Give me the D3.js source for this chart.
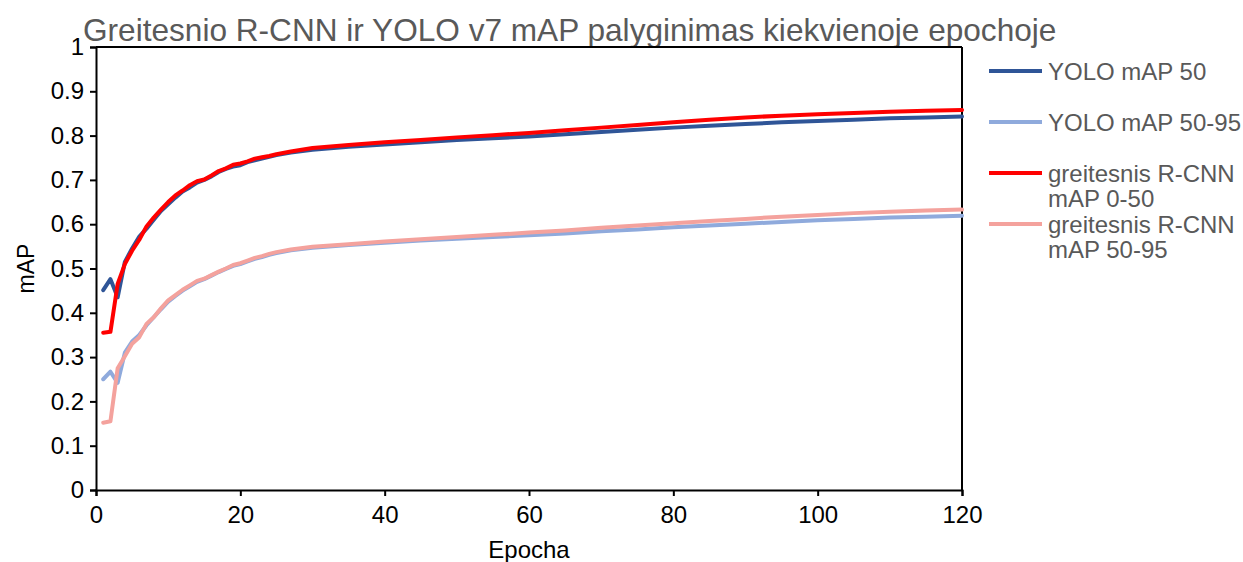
<!DOCTYPE html>
<html>
<head>
<meta charset="utf-8">
<script src="https://cdn.jsdelivr.net/npm/d3@7"></script>
<style>
  html, body { margin: 0; padding: 0; background: #ffffff; }
  svg { display: block; font-family: Arial, "Liberation Sans", sans-serif; }
</style>
</head>
<body>
<svg id="chart" width="1243" height="562"></svg>
<script>
// Epochs at which the mAP values are recorded
const epochs = [1, 2, 3, 4, 5, 6, 7, 8, 9, 10, 11, 12, 13, 14, 15, 16, 17, 18, 19, 20,
  21, 22, 23, 24, 25, 27, 30, 35, 40, 45, 50, 55, 60, 65, 70, 75, 80, 85, 90, 95,
  100, 105, 110, 115, 120];

const yoloMap50 = [0.451, 0.476, 0.435, 0.515, 0.545, 0.572, 0.590, 0.610, 0.630, 0.645,
  0.660, 0.674, 0.683, 0.694, 0.700, 0.708, 0.718, 0.725, 0.730, 0.733,
  0.740, 0.744, 0.748, 0.752, 0.756, 0.762, 0.768, 0.775, 0.780, 0.785,
  0.790, 0.794, 0.798, 0.803, 0.808, 0.813, 0.818, 0.822, 0.826, 0.830,
  0.833, 0.836, 0.839, 0.841, 0.843];

const yoloMap5095 = [0.250, 0.267, 0.242, 0.310, 0.335, 0.350, 0.372, 0.390, 0.408, 0.425,
  0.438, 0.450, 0.460, 0.470, 0.476, 0.484, 0.492, 0.499, 0.506, 0.510,
  0.516, 0.522, 0.526, 0.531, 0.535, 0.541, 0.547, 0.553, 0.558, 0.563,
  0.567, 0.571, 0.575, 0.579, 0.584, 0.588, 0.593, 0.597, 0.601, 0.605,
  0.609, 0.612, 0.615, 0.617, 0.619];

const rcnnMap050 = [0.355, 0.357, 0.465, 0.510, 0.540, 0.565, 0.595, 0.615, 0.633, 0.650,
  0.665, 0.676, 0.688, 0.697, 0.701, 0.710, 0.720, 0.726, 0.734, 0.737,
  0.742, 0.748, 0.751, 0.754, 0.758, 0.764, 0.772, 0.779, 0.785, 0.790,
  0.796, 0.801, 0.806, 0.812, 0.818, 0.824, 0.830, 0.836, 0.841, 0.845,
  0.848, 0.851, 0.854, 0.856, 0.858];

const rcnnMap5095 = [0.152, 0.155, 0.275, 0.302, 0.330, 0.345, 0.375, 0.390, 0.410, 0.428,
  0.440, 0.452, 0.462, 0.472, 0.477, 0.485, 0.493, 0.500, 0.508, 0.512,
  0.518, 0.524, 0.528, 0.533, 0.537, 0.543, 0.549, 0.555, 0.561, 0.566,
  0.571, 0.576, 0.581, 0.586, 0.592, 0.597, 0.602, 0.607, 0.612, 0.617,
  0.621, 0.625, 0.628, 0.631, 0.633];

const seriesNames = ["YOLO mAP 50", "YOLO mAP 50-95", "greitesnis R-CNN mAP 0-50", "greitesnis R-CNN mAP 50-95"];
const seriesColors = ["#2f5597", "#8faadc", "#ff0000", "#f4a29d"];
const legendLines = [["YOLO mAP 50"], ["YOLO mAP 50-95"], ["greitesnis R-CNN", "mAP 0-50"], ["greitesnis R-CNN", "mAP 50-95"]];

const xTicks = [0, 20, 40, 60, 80, 100, 120];
const yTicks = [0, 0.1, 0.2, 0.3, 0.4, 0.5, 0.6, 0.7, 0.8, 0.9, 1];

const titleText = "Greitesnio R-CNN ir YOLO v7 mAP palyginimas kiekvienoje epochoje";
const xTitle = "Epocha";
const yTitle = "mAP";

const seriesValues = [yoloMap50, yoloMap5095, rcnnMap050, rcnnMap5095];

const svg = d3.select("#chart");
const plot = { left: 96, right: 962, top: 47, bottom: 490 };

const x = d3.scaleLinear().domain([0, 120]).range([plot.left, plot.right]);
const y = d3.scaleLinear().domain([0, 1]).range([plot.bottom, plot.top]);

// Title
svg.append("text")
  .attr("x", 83).attr("y", 41)
  .attr("font-size", 31.6)
  .attr("fill", "#595959")
  .text(titleText);

// Frame: top and right edges
svg.append("line")
  .attr("x1", plot.left).attr("x2", plot.right)
  .attr("y1", plot.top).attr("y2", plot.top)
  .attr("stroke", "#000").attr("stroke-width", 2);
svg.append("line")
  .attr("x1", plot.right).attr("x2", plot.right)
  .attr("y1", plot.top).attr("y2", plot.bottom)
  .attr("stroke", "#000").attr("stroke-width", 2);

// Axes
const xAxis = d3.axisBottom(x).tickValues(xTicks).tickSize(6).tickPadding(10).tickFormat(d3.format("d"));
const yAxis = d3.axisLeft(y).tickValues(yTicks).tickSize(6).tickPadding(6).tickFormat(d => d === 0 || d === 1 ? String(d) : d3.format(".1f")(d));

const gx = svg.append("g").attr("transform", `translate(0,${plot.bottom})`).call(xAxis);
const gy = svg.append("g").attr("transform", `translate(${plot.left},0)`).call(yAxis);

[gx, gy].forEach(g => {
  g.select(".domain").attr("stroke", "#000").attr("stroke-width", 2);
  g.selectAll(".tick line").attr("stroke", "#000").attr("stroke-width", 2);
  g.selectAll(".tick text").attr("font-size", 24).attr("fill", "#000")
    .attr("font-family", "Arial, 'Liberation Sans', sans-serif");
});

// Axis titles
svg.append("text")
  .attr("x", (plot.left + plot.right) / 2).attr("y", 558)
  .attr("text-anchor", "middle").attr("font-size", 24).attr("fill", "#000")
  .text(xTitle);
svg.append("text")
  .attr("transform", `translate(34,${(plot.top + plot.bottom) / 2}) rotate(-90)`)
  .attr("text-anchor", "middle").attr("font-size", 23).attr("fill", "#000")
  .text(yTitle);

// Series lines
const line = d3.line()
  .x(d => x(d[0]))
  .y(d => y(d[1]));

seriesValues.forEach((vals, i) => {
  svg.append("path")
    .datum(epochs.map((e, j) => [e, vals[j]]))
    .attr("fill", "none")
    .attr("stroke", seriesColors[i])
    .attr("stroke-width", 4)
    .attr("stroke-linejoin", "round")
    .attr("stroke-linecap", "round")
    .attr("d", line);
});

// Legend
const legendY = [71, 122, 173, 224];
const legend = svg.append("g");
seriesNames.forEach((name, i) => {
  const g = legend.append("g").attr("transform", `translate(989,${legendY[i]})`);
  g.append("line")
    .attr("x1", 0).attr("x2", 53)
    .attr("stroke", seriesColors[i]).attr("stroke-width", 4);
  const t = g.append("text")
    .attr("x", 59).attr("y", 9)
    .attr("font-size", 24).attr("fill", "#595959");
  legendLines[i].forEach((s, k) => {
    t.append("tspan").attr("x", 59).attr("dy", k === 0 ? 0 : 25).text(s);
  });
});
</script>
</body>
</html>
